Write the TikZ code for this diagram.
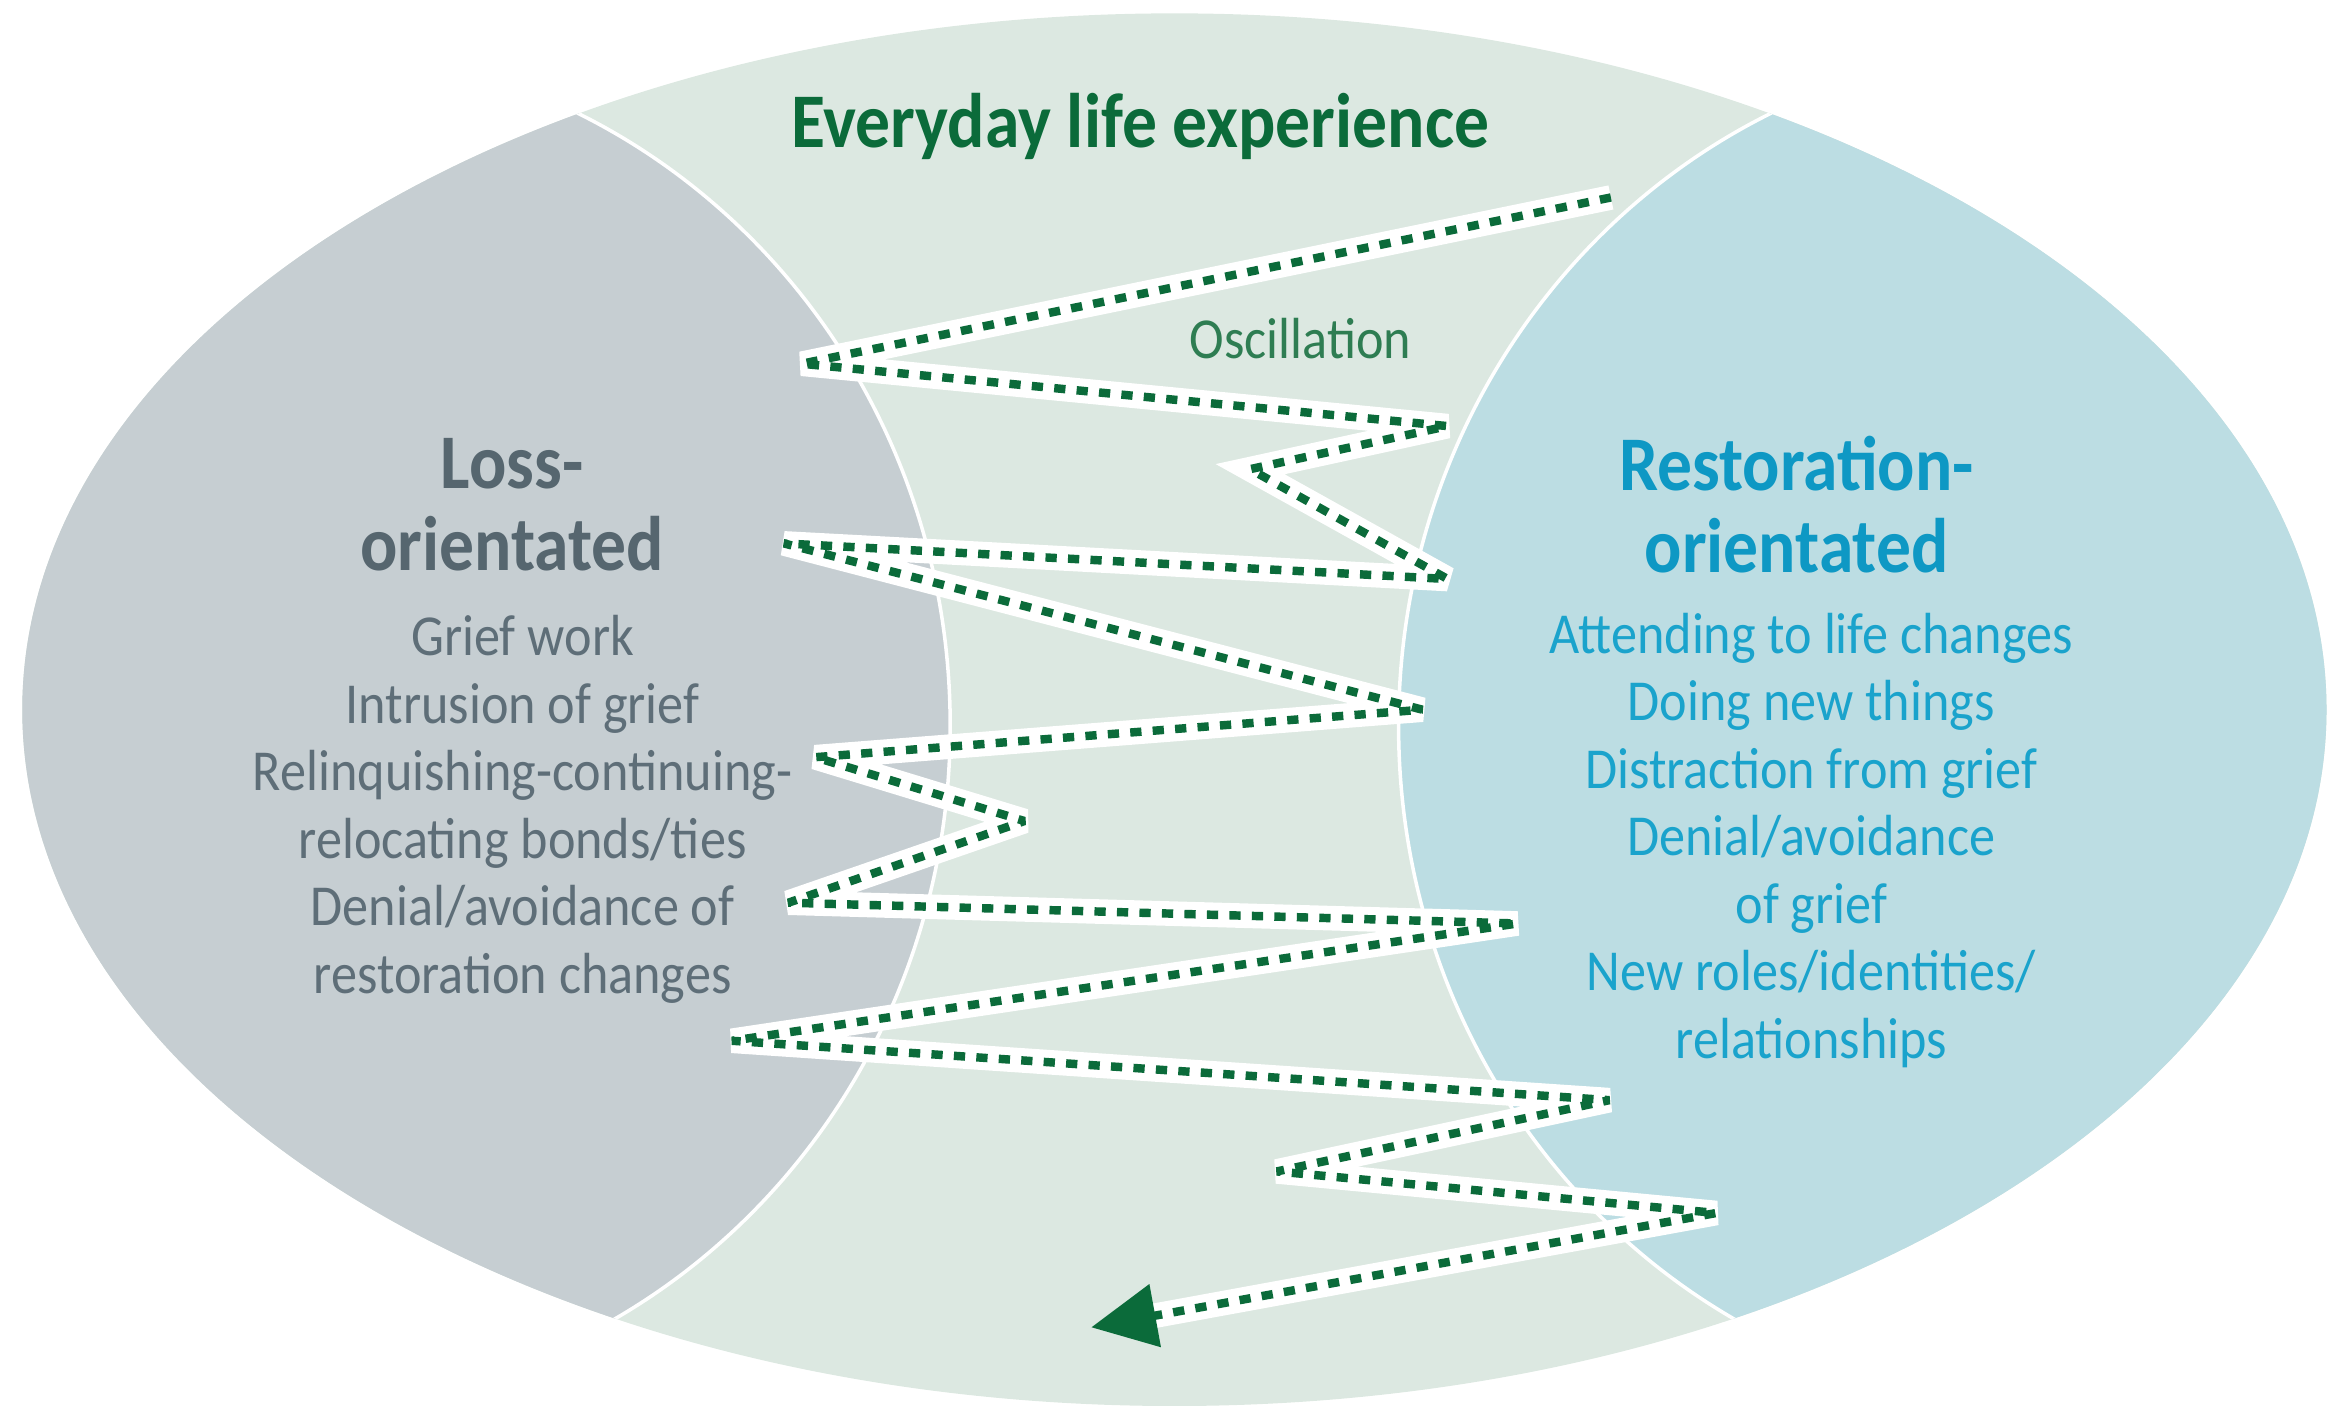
\documentclass[tikz,border=0pt]{standalone}
\usepackage{fontspec}
\usepackage{tikz}
\usetikzlibrary{arrows.meta}
\newfontfamily\diagfont{Carlito}[FakeStretch=0.9]
\definecolor{lossgrey}{HTML}{C6CED2}
\definecolor{lifegreen}{HTML}{DCE8E1}
\definecolor{restblue}{HTML}{BCDDE3}
\definecolor{darkgreen}{HTML}{0B6B3A}
\definecolor{osciltext}{HTML}{2E7D52}
\definecolor{losshead}{HTML}{56666F}
\definecolor{losstext}{HTML}{5E6E78}
\definecolor{resthead}{HTML}{0E98C4}
\definecolor{resttext}{HTML}{1AA3CC}
\tikzset{
  heading/.style={font=\diagfont\bfseries\fontsize{22}{23.2}\selectfont, align=center},
  itemlist/.style={font=\diagfont\fontsize{16.5}{19.2}\selectfont, align=center},
  band/.style={white, line width=7pt, line join=miter, miter limit=3.2},
  oscil/.style={darkgreen, line width=2.4pt, line join=bevel, dash pattern=on 3.2pt off 3.2pt},
}

\begin{document}
\begin{tikzpicture}[x=0.14847mm, y=-0.14847mm]
			%%%%% START %%%%%
			\useasboundingbox (0,0) rectangle (1568,947);
			
			\fill[lifegreen] (791,478) ellipse [x radius=776, y radius=469];
			\begin{scope}
				\clip (791,478) ellipse [x radius=776, y radius=469];
				\filldraw[fill=lossgrey, draw=white, line width=1pt] (200,489) ellipse [x radius=440, y radius=457];
				\filldraw[fill=restblue, draw=white, line width=1pt] (1382,489) ellipse [x radius=440, y radius=457];
			\end{scope}
			
			\coordinate (z0) at (1085,133);
			\coordinate (z1) at (540,245);
			\coordinate (z2) at (975,287);
			\coordinate (z3) at (842,316);
			\coordinate (z4) at (975,390);
			\coordinate (z5) at (528,366);
			\coordinate (z6) at (958,478);
			\coordinate (z7) at (549,510);
			\coordinate (z8) at (690,553);
			\coordinate (z9) at (531,608);
			\coordinate (z10) at (1022,622);
			\coordinate (z11) at (493,701);
			\coordinate (z12) at (1084,741);
			\coordinate (z13) at (860,789);
			\coordinate (z14) at (1156,817);
			\coordinate (z15) at (735,894);
			
			\draw[band, shorten >=14pt] (z0) -- (z1) -- (z2) -- (z3) -- (z4) -- (z5) -- (z6) -- (z7) -- (z8) -- (z9) -- (z10) -- (z11) -- (z12) -- (z13) -- (z14) -- (z15);
			\draw[oscil, -{Triangle[length=6.5mm, width=6.2mm]}] (z0) -- (z1) -- (z2) -- (z3) -- (z4) -- (z5) -- (z6) -- (z7) -- (z8) -- (z9) -- (z10) -- (z11) -- (z12) -- (z13) -- (z14) -- (z15);
			
			\node[heading, text=darkgreen] (life) at (768,85) {Everyday life experience};
			\node[itemlist, text=osciltext] (oscillation) at (876,228) {Oscillation};
			
			\node[heading, text=losshead] (losstitle) at (345,340) {Loss-\\orientated};
			\node[itemlist, text=losstext] (lossitems) at (352,545) {Grief work\\Intrusion of grief\\Relinquishing-continuing-\\relocating bonds/ties\\Denial/avoidance of\\restoration changes};
			
			\node[heading, text=resthead] (resttitle) at (1210,340) {Restoration-\\orientated};
			\node[itemlist, text=resttext] (restitems) at (1220,566) {Attending to life changes\\Doing new things\\Distraction from grief\\Denial/avoidance\\of grief\\New roles/identities/\\relationships};
			
			%%%%% END %%%%%
\end{tikzpicture}
\end{document}
